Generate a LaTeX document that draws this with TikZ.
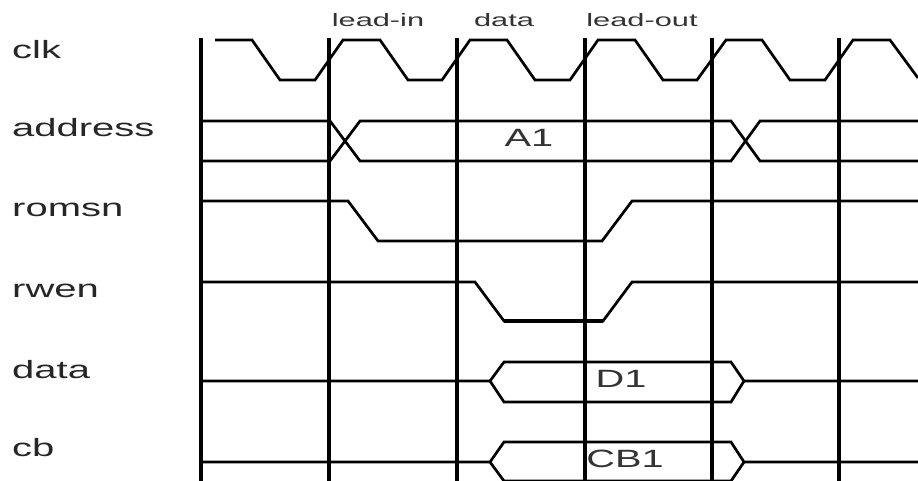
\documentclass[tikz,border=0pt]{standalone}
\usepackage{fontspec}
\setmainfont{Liberation Sans}
\tikzset{
  grid/.style={line width=4pt,black},
  sig/.style={line width=2.7pt,black,line join=miter},
  lab/.style={inner sep=0pt,anchor=base west,text=black!85},
  big/.style={inner sep=0pt,anchor=base,text=black!80},
  small/.style={inner sep=0pt,anchor=base,text=black!80}
}
\newcommand{\wl}[1]{\scalebox{1.6}[1]{\fontsize{25}{25}\selectfont #1}}
\newcommand{\ws}[1]{\scalebox{1.71}[1]{\fontsize{18}{18}\selectfont #1}}
\newcommand{\wm}[1]{\scalebox{1.59}[1]{\fontsize{25}{25}\selectfont #1}}
\begin{document}
\begin{tikzpicture}[x=1pt,y=-1pt]
\useasboundingbox (0,0) rectangle (918,481);
\clip (0,0) rectangle (918,481);
\foreach \n/\x in {a/201,b/329,c/457,d/585,e/712,f/839}{
  \coordinate (t\n) at (\x,38);
  \coordinate (b\n) at (\x,481);
  \draw[grid] (t\n) -- (b\n);
}
\draw[sig] (215,40) -- (252,40) -- (280,80) -- (315,80) -- (343,40) -- (380,40) -- (408,80) -- (442,80) -- (470,40) -- (507,40) -- (535,80) -- (570,80) -- (598,40) -- (635,40) -- (663,80) -- (697,80) -- (726,40) -- (762,40) -- (790,80) -- (825,80) -- (853,40) -- (890,40) -- (918,78);
\draw[sig] (201,121) -- (330,121) -- (360,161) -- (731,161) -- (760,121) -- (918,121);
\draw[sig] (201,161) -- (330,161) -- (360,121) -- (731,121) -- (760,161) -- (918,161);
\draw[sig] (201,201) -- (348,201) -- (378,241) -- (602,241) -- (632,201) -- (918,201);
\draw[sig] (201,282) -- (475,282) -- (504,321) -- (603,321) -- (632,282) -- (918,282);
\draw[line width=3.6pt] (504,321) -- (603,321);
\draw[sig] (201,381) -- (490,381) -- (504,362) -- (731,362) -- (744,381) -- (918,381);
\draw[sig] (490,381) -- (504,402) -- (731,402) -- (744,381);
\draw[sig] (201,462) -- (490,462) -- (504,442) -- (731,442) -- (744,462) -- (918,462);
\draw[sig] (490,462) -- (504,481) -- (731,481) -- (744,462);
\node[lab] (lclk) at (12,59) {\wl{clk}};
\node[lab] (laddr) at (12,137) {\wl{address}};
\node[lab] (lrom) at (12,217) {\wl{romsn}};
\node[lab] (lrw) at (12,297) {\wl{rwen}};
\node[lab] (ldata) at (12,378) {\wl{data}};
\node[lab] (lcb) at (12,456) {\wl{cb}};
\node[small] (h1) at (378,27) {\ws{lead-in}};
\node[small] (h2) at (504,27) {\ws{data}};
\node[small] (h3) at (642,27) {\ws{lead-out}};
\node[big] (a1) at (529,147) {\wm{A1}};
\node[big] (d1) at (621,387) {\wm{D1}};
\node[big] (cb1) at (625,467) {\wm{CB1}};
\end{tikzpicture}
\end{document}
